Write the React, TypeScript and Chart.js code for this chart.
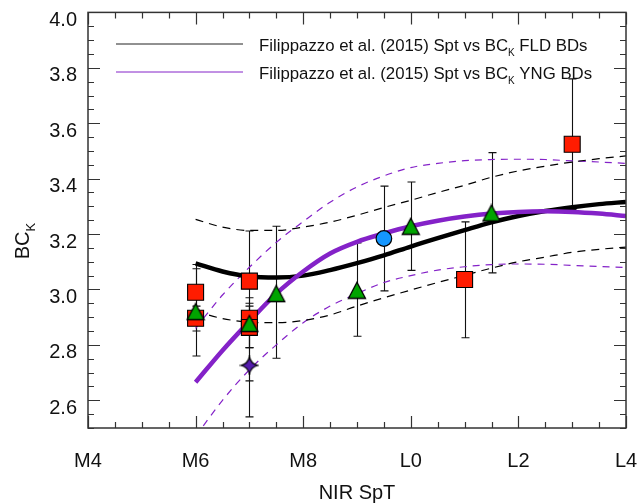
import React, { useEffect, useRef } from 'react';
import { Chart, registerables } from 'chart.js';

Chart.register(...registerables);

// ---- Fit curves (NIR SpT: M4=4 ... L0=10 ... L4=14) ----
const curveSpT = [6, 6.5, 7, 7.5, 8, 8.5, 9, 9.5, 10, 10.5, 11, 11.5, 12, 12.5, 13, 13.5, 14];
const fldFit = [3.094, 3.065, 3.047, 3.043, 3.05, 3.07, 3.095, 3.123, 3.155, 3.185, 3.214, 3.242, 3.265, 3.283, 3.297, 3.308, 3.316];
const fldUpper = [3.253, 3.225, 3.213, 3.213, 3.225, 3.243, 3.268, 3.296, 3.322, 3.35, 3.376, 3.405, 3.428, 3.445, 3.46, 3.472, 3.482];
const fldLower = [2.921, 2.895, 2.882, 2.88, 2.888, 2.908, 2.94, 2.97, 2.998, 3.025, 3.051, 3.077, 3.1, 3.117, 3.134, 3.145, 3.153];
const yngFit = [2.665, 2.78, 2.885, 2.985, 3.065, 3.13, 3.172, 3.202, 3.228, 3.248, 3.263, 3.274, 3.28, 3.282, 3.28, 3.274, 3.265];
const yngUpper = [2.86, 2.98, 3.08, 3.17, 3.245, 3.315, 3.37, 3.41, 3.44, 3.455, 3.465, 3.469, 3.47, 3.469, 3.464, 3.46, 3.455];
const yngLower = [2.47, 2.6, 2.71, 2.8, 2.88, 2.94, 2.985, 3.025, 3.05, 3.07, 3.082, 3.09, 3.092, 3.091, 3.087, 3.083, 3.079];

// ---- Objects ----
const squareSpT = [6, 6, 7, 7, 7, 11, 13];
const squareBC = [2.99, 2.896, 3.03, 2.896, 2.863, 3.036, 3.524];
const squareLo = [2.905, 2.85, 2.67, 2.84, 2.79, 2.826, 3.289];
const squareHi = [3.075, 2.94, 3.211, 2.95, 2.94, 3.244, 3.76];

const triangleSpT = [6, 7, 7.5, 9, 10, 11.5];
const triangleBC = [2.92, 2.877, 2.985, 2.997, 3.228, 3.276];
const triangleLo = [2.76, 2.79, 2.752, 2.831, 3.069, 3.06];
const triangleHi = [3.09, 2.97, 3.228, 3.168, 3.388, 3.494];

const circleSpT = [9.5];
const circleBC = [3.184];
const circleLo = [2.995];
const circleHi = [3.373];

const starSpT = [7];
const starBC = [2.726];
const starLo = [2.54];
const starHi = [2.912];

// ---- Axes ----
const xTickValues = [4, 6, 8, 10, 12, 14];
const xTickLabels = ['M4', 'M6', 'M8', 'L0', 'L2', 'L4'];
const yTickValues = [2.6, 2.8, 3.0, 3.2, 3.4, 3.6, 3.8, 4.0];

const legendLabels = [
  ['Filippazzo et al. (2015) Spt vs BC', 'K', ' FLD BDs'],
  ['Filippazzo et al. (2015) Spt vs BC', 'K', ' YNG BDs'],
];

const FONT = '"Liberation Sans", Arial, Helvetica, sans-serif';
const PURPLE = 'rgb(132, 34, 200)';

function pts(xs: number[], ys: number[]) {
  return xs.map((x, i) => ({ x, y: ys[i] }));
}

function makeTriangle(): HTMLCanvasElement {
  const c = document.createElement('canvas');
  c.width = 20;
  c.height = 19;
  const g = c.getContext('2d')!;
  g.beginPath();
  g.moveTo(10, 1.5);
  g.lineTo(18.5, 17.5);
  g.lineTo(1.5, 17.5);
  g.closePath();
  g.fillStyle = '#00a400';
  g.fill();
  g.lineWidth = 1.3;
  g.strokeStyle = '#000';
  g.stroke();
  return c;
}

function makeStar(): HTMLCanvasElement {
  const c = document.createElement('canvas');
  c.width = 20;
  c.height = 20;
  const g = c.getContext('2d')!;
  const cx = 10, cy = 10, R = 8.5, k = 1.6;
  g.beginPath();
  g.moveTo(cx, cy - R);
  g.quadraticCurveTo(cx + k, cy - k, cx + R, cy);
  g.quadraticCurveTo(cx + k, cy + k, cx, cy + R);
  g.quadraticCurveTo(cx - k, cy + k, cx - R, cy);
  g.quadraticCurveTo(cx - k, cy - k, cx, cy - R);
  g.closePath();
  g.fillStyle = 'rgb(84, 28, 172)';
  g.fill();
  g.lineWidth = 1.2;
  g.strokeStyle = '#000';
  g.stroke();
  return c;
}

function drawSubText(ctx: CanvasRenderingContext2D, x: number, y: number, main: string, sub: string, rest: string, size: number) {
  ctx.font = `${size}px ${FONT}`;
  ctx.fillText(main, x, y);
  let cx = x + ctx.measureText(main).width;
  ctx.font = `${Math.round(size * 0.62)}px ${FONT}`;
  ctx.fillText(sub, cx, y + size * 0.3);
  cx += ctx.measureText(sub).width;
  ctx.font = `${size}px ${FONT}`;
  ctx.fillText(rest, cx, y);
}

const errorBarPlugin = {
  id: 'errorBars',
  beforeDatasetsDraw(chart: any) {
    const { ctx, scales } = chart;
    const xs = scales.x, ys = scales.y;
    const groups: [number[], number[], number[]][] = [
      [squareSpT, squareLo, squareHi],
      [triangleSpT, triangleLo, triangleHi],
      [circleSpT, circleLo, circleHi],
      [starSpT, starLo, starHi],
    ];
    ctx.save();
    ctx.strokeStyle = '#111';
    ctx.lineWidth = 1.1;
    groups.forEach(([sx, lo, hi]) => {
      sx.forEach((v, i) => {
        const px = Math.round(xs.getPixelForValue(v)) + 0.5;
        const y1 = ys.getPixelForValue(lo[i]);
        const y2 = ys.getPixelForValue(hi[i]);
        ctx.beginPath();
        ctx.moveTo(px, y1);
        ctx.lineTo(px, y2);
        ctx.moveTo(px - 4, y1);
        ctx.lineTo(px + 4, y1);
        ctx.moveTo(px - 4, y2);
        ctx.lineTo(px + 4, y2);
        ctx.stroke();
      });
    });
    ctx.restore();
  },
};

const framePlugin = {
  id: 'frame',
  afterDraw(chart: any) {
    const { ctx, chartArea: a, scales } = chart;
    const xs = scales.x, ys = scales.y;
    ctx.save();
    ctx.strokeStyle = '#333';
    ctx.lineWidth = 1.5;
    ctx.strokeRect(a.left, a.top, a.right - a.left, a.bottom - a.top);
    ctx.lineWidth = 1.2;
    ctx.beginPath();
    for (let v = 4; v <= 14.001; v += 0.5) {
      const px = Math.round(xs.getPixelForValue(v)) + 0.5;
      const major = Math.abs(v / 2 - Math.round(v / 2)) < 1e-6;
      const len = major ? 12 : 6;
      ctx.moveTo(px, a.bottom);
      ctx.lineTo(px, a.bottom - len);
      ctx.moveTo(px, a.top);
      ctx.lineTo(px, a.top + len);
    }
    for (let i = 0; i <= 30; i++) {
      const v = 2.5 + i * 0.05;
      const py = Math.round(ys.getPixelForValue(v)) + 0.5;
      const major = Math.abs((v * 10) / 2 - Math.round((v * 10) / 2)) < 1e-6;
      const len = major ? 12 : 6;
      ctx.moveTo(a.left, py);
      ctx.lineTo(a.left + len, py);
      ctx.moveTo(a.right, py);
      ctx.lineTo(a.right - len, py);
    }
    ctx.stroke();

    // legend
    ctx.lineWidth = 1;
    ctx.strokeStyle = '#222';
    ctx.beginPath();
    ctx.moveTo(116, 44);
    ctx.lineTo(243, 44);
    ctx.stroke();
    ctx.strokeStyle = PURPLE;
    ctx.beginPath();
    ctx.moveTo(116, 72);
    ctx.lineTo(243, 72);
    ctx.stroke();
    ctx.fillStyle = '#111';
    ctx.textBaseline = 'alphabetic';
    ctx.textAlign = 'left';
    drawSubText(ctx, 259, 51, legendLabels[0][0], legendLabels[0][1], legendLabels[0][2], 16.8);
    drawSubText(ctx, 259, 79, legendLabels[1][0], legendLabels[1][1], legendLabels[1][2], 16.8);

    // axis titles
    ctx.font = `20px ${FONT}`;
    ctx.textAlign = 'center';
    ctx.fillText('NIR SpT', (a.left + a.right) / 2, 499);

    ctx.translate(29, 241);
    ctx.rotate(-Math.PI / 2);
    ctx.textAlign = 'left';
    ctx.font = `20px ${FONT}`;
    const wMain = ctx.measureText('BC').width;
    ctx.font = `13px ${FONT}`;
    const wSub = ctx.measureText('K').width;
    const start = -(wMain + wSub) / 2;
    ctx.font = `20px ${FONT}`;
    ctx.fillText('BC', start, 0);
    ctx.font = `13px ${FONT}`;
    ctx.fillText('K', start + wMain, 6);
    ctx.restore();
  },
};

export default function App() {
  const ref = useRef<HTMLCanvasElement>(null);

  useEffect(() => {
    document.body.style.margin = '0';
    const tri = makeTriangle();
    const star = makeStar();
    const lineDs = (label: string, ys: number[], color: string, width: number, dash: number[], order: number) => ({
      type: 'line' as const,
      label,
      data: pts(curveSpT, ys),
      borderColor: color,
      borderWidth: width,
      borderDash: dash,
      pointRadius: 0,
      fill: false,
      cubicInterpolationMode: 'monotone' as const,
      order,
    });
    const chart = new Chart(ref.current!, {
      type: 'scatter',
      data: {
        datasets: [
          {
            label: 'Squares',
            data: pts(squareSpT, squareBC),
            pointStyle: 'rect',
            pointRadius: 11.3,
            backgroundColor: 'rgb(255, 28, 0)',
            borderColor: '#000',
            borderWidth: 1.1,
            order: 0,
          },
          {
            label: 'Triangles',
            data: pts(triangleSpT, triangleBC),
            pointStyle: tri,
            pointRadius: 10,
            order: -1,
          },
          {
            label: 'Circle',
            data: pts(circleSpT, circleBC),
            pointStyle: 'circle',
            pointRadius: 7.8,
            backgroundColor: 'rgb(20, 150, 255)',
            borderColor: '#000',
            borderWidth: 1.2,
            order: 0,
          },
          {
            label: 'Star',
            data: pts(starSpT, starBC),
            pointStyle: star,
            pointRadius: 10,
            order: 0,
          },
          lineDs('FLD fit', fldFit, '#000', 4.5, [], 2),
          lineDs('FLD upper', fldUpper, '#000', 1.2, [8, 6], 3),
          lineDs('FLD lower', fldLower, '#000', 1.2, [8, 6], 3),
          lineDs('YNG fit', yngFit, PURPLE, 4.5, [], 1),
          lineDs('YNG upper', yngUpper, PURPLE, 1.2, [7, 6], 3),
          lineDs('YNG lower', yngLower, PURPLE, 1.2, [7, 6], 3),
        ] as any,
      },
      options: {
        animation: false,
        responsive: true,
        maintainAspectRatio: false,
        layout: { padding: { left: 0, right: 14, top: 12, bottom: 0 } },
        plugins: {
          legend: { display: false },
          tooltip: { enabled: false },
        },
        scales: {
          x: {
            type: 'linear',
            min: 4,
            max: 14,
            afterBuildTicks: (s: any) => {
              s.ticks = xTickValues.map((v) => ({ value: v }));
            },
            afterFit: (s: any) => {
              s.height = 75;
              s.paddingLeft = 0;
              s.paddingRight = 0;
              s.paddingTop = 0;
              s.paddingBottom = 0;
            },
            grid: { display: false, drawTicks: false },
            border: { display: false },
            ticks: {
              padding: 21,
              maxRotation: 0,
              autoSkip: false,
              color: '#111',
              font: { family: FONT, size: 20 },
              callback: (v: any) => {
                const i = xTickValues.indexOf(Number(v));
                return i >= 0 ? xTickLabels[i] : '';
              },
            },
          },
          y: {
            type: 'linear',
            min: 2.5,
            max: 4.0,
            afterBuildTicks: (s: any) => {
              s.ticks = yTickValues.map((v) => ({ value: v }));
            },
            afterFit: (s: any) => {
              s.width = 88;
              s.paddingLeft = 0;
              s.paddingRight = 0;
              s.paddingTop = 0;
              s.paddingBottom = 0;
            },
            grid: { display: false, drawTicks: false },
            border: { display: false },
            ticks: {
              padding: 11,
              labelOffset: 8,
              autoSkip: false,
              color: '#111',
              font: { family: FONT, size: 20 },
              callback: (v: any) => Number(v).toFixed(1),
            },
          },
        },
      },
      plugins: [errorBarPlugin, framePlugin],
    });
    return () => chart.destroy();
  }, []);

  return (
    <div style={{ position: 'absolute', left: 0, top: 0, width: 640, height: 503 }}>
      <canvas ref={ref} />
    </div>
  );
}
